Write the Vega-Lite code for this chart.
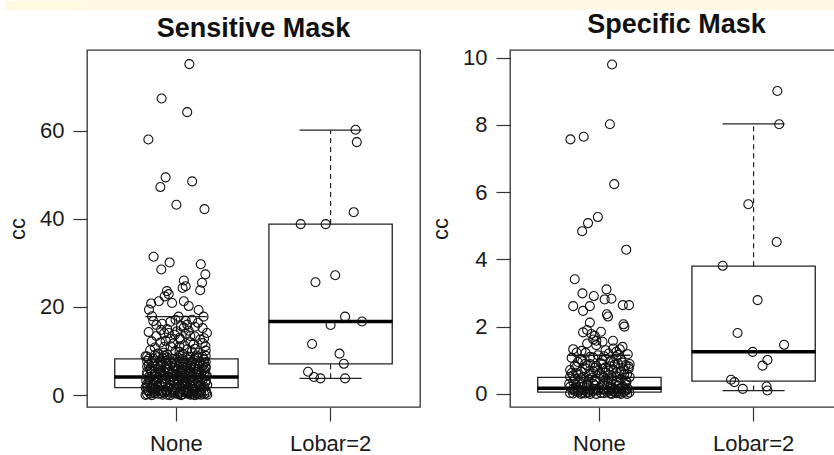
{
"$schema": "https://vega.github.io/schema/vega-lite/v6.json",
"padding": 0,
"background": "white",
"spacing": 0,
"config": {
 "font": "Liberation Sans",
 "view": {"stroke": "#333", "strokeWidth": 1.3},
 "axis": {"grid": false, "domain": false, "tickColor": "#333", "tickWidth": 1.2, "labelFontSize": 22, "labelColor": "#1a1a1a", "titleFontSize": 22, "titleFontWeight": "normal", "titleColor": "#1a1a1a", "labelFont": "Liberation Sans", "titleFont": "Liberation Sans"},
 "axisX": {"tickSize": 14, "labelPadding": 12, "labelAngle": 0},
 "axisY": {"tickSize": 14, "labelPadding": 9, "titlePadding": 10, "labelFlush": false},
 "title": {"fontSize": 27, "fontWeight": "bold", "color": "#111", "offset": 7.5, "anchor": "middle", "font": "Liberation Sans"},
 "point": {"shape": "circle", "filled": false, "size": 81, "strokeWidth": 1.1, "color": "#111", "opacity": 1},
 "tick": {"opacity": 1}
},
"datasets": {
 "s_box": [
  {"g": "None", "lo": 0, "q1": 1.7, "med": 4.1, "q3": 8.2, "hi": 17.8},
  {"g": "Lobar=2", "lo": 3.8, "q1": 7.1, "med": 16.7, "q3": 38.8, "hi": 60.1}
 ],
 "p_box": [
  {"g": "None", "lo": 0, "q1": 0.05, "med": 0.17, "q3": 0.49, "hi": 1.15},
  {"g": "Lobar=2", "lo": 0.1, "q1": 0.38, "med": 1.25, "q3": 3.8, "hi": 8.03}
 ],
 "s_pts": [
  {"g":"None","v":75.1,"j":0.42},{"g":"None","v":67.3,"j":-0.48},{"g":"None","v":64.2,"j":0.35},{"g":"None","v":58.0,"j":-0.91},{"g":"None","v":49.4,"j":-0.35},{"g":"None","v":47.2,"j":-0.52},{"g":"None","v":48.5,"j":0.51},{"g":"None","v":43.2,"j":0.0},{"g":"None","v":42.2,"j":0.91},
  {"g":"None","v":31.4,"j":-0.74},{"g":"None","v":30.1,"j":-0.22},{"g":"None","v":28.5,"j":-0.49},{"g":"None","v":29.7,"j":0.79},{"g":"None","v":27.4,"j":0.94},{"g":"None","v":25.5,"j":0.83},{"g":"None","v":23.8,"j":0.77},{"g":"None","v":26.0,"j":0.24},{"g":"None","v":24.3,"j":0.2},{"g":"None","v":23.6,"j":-0.31},{"g":"None","v":22.4,"j":-0.38},{"g":"None","v":21.3,"j":-0.57},{"g":"None","v":20.9,"j":-0.14},{"g":"None","v":21.3,"j":0.24},{"g":"None","v":20.2,"j":0.4},{"g":"None","v":19.3,"j":0.72},{"g":"None","v":19.4,"j":-0.89},{"g":"None","v":22.9,"j":-0.25},{"g":"None","v":20.8,"j":-0.82},{"g":"None","v":24.7,"j":0.3},
  {"g":"None","v":17.9,"j":-0.79},{"g":"None","v":16.2,"j":-0.46},{"g":"None","v":17.1,"j":-0.03},{"g":"None","v":17.8,"j":0.07},{"g":"None","v":17.1,"j":0.51},{"g":"None","v":17.8,"j":0.88},{"g":"None","v":13.4,"j":-0.65},{"g":"None","v":14.1,"j":-0.25},{"g":"None","v":14.5,"j":0.02},{"g":"None","v":15.3,"j":0.24},{"g":"None","v":13.4,"j":0.45},{"g":"None","v":14.1,"j":0.99},{"g":"None","v":16.8,"j":-0.75},{"g":"None","v":15.5,"j":0.6},{"g":"None","v":14.8,"j":-0.5},{"g":"None","v":16.0,"j":0.35},
  {"g":"None","v":11.1,"j":0.94},{"g":"None","v":11.9,"j":-0.52},{"g":"None","v":11.1,"j":-0.19},{"g":"None","v":12.6,"j":0.13},{"g":"None","v":11.5,"j":0.56},{"g":"None","v":10.4,"j":0.35},{"g":"None","v":12.6,"j":0.77},{"g":"None","v":9.6,"j":-0.41},{"g":"None","v":10.0,"j":-0.03},{"g":"None","v":8.8,"j":-1.0},{"g":"None","v":9.6,"j":0.72},{"g":"None","v":10.8,"j":-0.7},{"g":"None","v":12.0,"j":0.45},{"g":"None","v":9.3,"j":0.2},{"g":"None","v":10.2,"j":-0.85},{"g":"None","v":11.7,"j":-0.1},{"g":"None","v":13.0,"j":0.1},{"g":"None","v":9.9,"j":0.5},{"g":"None","v":12.3,"j":-0.35},
  {"g":"None","v":9.4,"j":-0.6},{"g":"None","v":9.8,"j":0.1},{"g":"None","v":10.5,"j":0.6},{"g":"None","v":10.9,"j":-0.4},{"g":"None","v":11.3,"j":0.25},{"g":"None","v":11.8,"j":0.85},{"g":"None","v":12.2,"j":-0.8},{"g":"None","v":12.8,"j":-0.2},{"g":"None","v":13.3,"j":0.6},{"g":"None","v":13.7,"j":-0.05},{"g":"None","v":14.3,"j":-0.9},{"g":"None","v":14.6,"j":0.4},{"g":"None","v":15.0,"j":-0.3},{"g":"None","v":15.7,"j":0.15},{"g":"None","v":16.4,"j":0.7},{"g":"None","v":16.6,"j":-0.2},{"g":"None","v":15.9,"j":-0.65},{"g":"None","v":12.9,"j":0.9},{"g":"None","v":10.1,"j":0.95},{"g":"None","v":9.2,"j":-0.3},{"g":"None","v":13.9,"j":0.3},{"g":"None","v":11.0,"j":0.1},{"g":"None","v":15.2,"j":0.85},{"g":"None","v":16.9,"j":0.3},{"g":"None","v":14.0,"j":-0.4},
  {"g":"None","v":0.2,"j":-0.95},{"g":"None","v":0.4,"j":-0.7},{"g":"None","v":0.1,"j":-0.45},{"g":"None","v":0.5,"j":-0.2},{"g":"None","v":0.2,"j":0.05},{"g":"None","v":0.6,"j":0.3},{"g":"None","v":0.3,"j":0.55},{"g":"None","v":0.1,"j":0.8},{"g":"None","v":0.5,"j":0.97},{"g":"None","v":0.3,"j":-0.85},{"g":"None","v":0.2,"j":0.2},{"g":"None","v":0.4,"j":0.65},
  {"g":"None","v":0.9,"j":-0.9},{"g":"None","v":1.2,"j":-0.6},{"g":"None","v":0.8,"j":-0.3},{"g":"None","v":1.3,"j":-0.05},{"g":"None","v":1.0,"j":0.25},{"g":"None","v":1.4,"j":0.5},{"g":"None","v":0.9,"j":0.75},{"g":"None","v":1.1,"j":0.95},{"g":"None","v":1.2,"j":-0.15},{"g":"None","v":0.8,"j":0.4},
  {"g":"None","v":1.7,"j":-0.8},{"g":"None","v":2.1,"j":-0.5},{"g":"None","v":1.8,"j":-0.25},{"g":"None","v":2.0,"j":0.1},{"g":"None","v":1.6,"j":0.35},{"g":"None","v":2.2,"j":0.6},{"g":"None","v":1.9,"j":0.9},{"g":"None","v":1.7,"j":-1.0},{"g":"None","v":2.1,"j":0.2},
  {"g":"None","v":2.5,"j":-0.95},{"g":"None","v":2.9,"j":-0.65},{"g":"None","v":2.6,"j":-0.35},{"g":"None","v":3.0,"j":-0.1},{"g":"None","v":2.4,"j":0.15},{"g":"None","v":2.8,"j":0.45},{"g":"None","v":2.7,"j":0.7},{"g":"None","v":3.0,"j":0.95},{"g":"None","v":2.5,"j":0.3},
  {"g":"None","v":3.3,"j":-0.75},{"g":"None","v":3.7,"j":-0.45},{"g":"None","v":3.4,"j":-0.2},{"g":"None","v":3.6,"j":0.05},{"g":"None","v":3.2,"j":0.3},{"g":"None","v":3.8,"j":0.55},{"g":"None","v":3.5,"j":0.85},{"g":"None","v":3.3,"j":-0.98},
  {"g":"None","v":4.1,"j":-0.9},{"g":"None","v":4.5,"j":-0.55},{"g":"None","v":4.2,"j":-0.3},{"g":"None","v":4.6,"j":0.0},{"g":"None","v":4.0,"j":0.25},{"g":"None","v":4.4,"j":0.5},{"g":"None","v":4.3,"j":0.75},{"g":"None","v":4.5,"j":0.98},{"g":"None","v":4.1,"j":-0.1},
  {"g":"None","v":4.9,"j":-0.7},{"g":"None","v":5.3,"j":-0.4},{"g":"None","v":5.0,"j":-0.15},{"g":"None","v":5.4,"j":0.15},{"g":"None","v":4.8,"j":0.4},{"g":"None","v":5.2,"j":0.65},{"g":"None","v":5.1,"j":0.9},{"g":"None","v":5.3,"j":-0.95},
  {"g":"None","v":5.7,"j":-0.85},{"g":"None","v":6.1,"j":-0.6},{"g":"None","v":5.8,"j":-0.3},{"g":"None","v":6.2,"j":-0.05},{"g":"None","v":5.6,"j":0.2},{"g":"None","v":6.0,"j":0.45},{"g":"None","v":5.9,"j":0.7},{"g":"None","v":6.1,"j":0.95},
  {"g":"None","v":6.5,"j":-0.95},{"g":"None","v":6.9,"j":-0.5},{"g":"None","v":6.6,"j":-0.2},{"g":"None","v":7.0,"j":0.1},{"g":"None","v":6.4,"j":0.35},{"g":"None","v":6.8,"j":0.6},{"g":"None","v":6.7,"j":0.85},{"g":"None","v":6.5,"j":-0.7},
  {"g":"None","v":7.3,"j":-0.8},{"g":"None","v":7.7,"j":-0.35},{"g":"None","v":7.4,"j":-0.05},{"g":"None","v":7.8,"j":0.25},{"g":"None","v":7.2,"j":0.5},{"g":"None","v":7.6,"j":0.75},{"g":"None","v":7.5,"j":0.95},
  {"g":"None","v":8.2,"j":-0.9},{"g":"None","v":8.6,"j":-0.6},{"g":"None","v":8.1,"j":-0.25},{"g":"None","v":8.5,"j":0.05},{"g":"None","v":8.8,"j":0.35},{"g":"None","v":8.3,"j":0.6},{"g":"None","v":8.7,"j":0.85},{"g":"None","v":8.4,"j":-0.45},
  {"g":"None","v":0.3,"j":-0.6},{"g":"None","v":0.7,"j":0.1},{"g":"None","v":1.5,"j":-0.7},{"g":"None","v":2.3,"j":0.8},{"g":"None","v":3.1,"j":0.2},{"g":"None","v":3.9,"j":-0.6},{"g":"None","v":4.7,"j":0.65},{"g":"None","v":5.5,"j":-0.5},{"g":"None","v":6.3,"j":0.55},{"g":"None","v":7.1,"j":-0.3},{"g":"None","v":0.1,"j":0.45},{"g":"None","v":0.6,"j":-0.4},{"g":"None","v":1.0,"j":-0.5},{"g":"None","v":0.2,"j":0.9},{"g":"None","v":1.4,"j":0.15},{"g":"None","v":2.6,"j":-0.75},{"g":"None","v":0.4,"j":0.1},{"g":"None","v":0.0,"j":-0.2},{"g":"None","v":0.0,"j":0.6},{"g":"None","v":0.3,"j":-0.1},
  {"g":"None","v":0.0,"j":-0.8},{"g":"None","v":0.1,"j":-0.3},{"g":"None","v":0.0,"j":0.15},{"g":"None","v":0.2,"j":0.5},{"g":"None","v":0.1,"j":1.0},{"g":"None","v":0.05,"j":-1.0},{"g":"None","v":0.15,"j":0.7},{"g":"None","v":0.35,"j":0.35},{"g":"None","v":0.45,"j":-0.5},{"g":"None","v":0.55,"j":0.8},
  {"g":"None","v":0.7,"j":-0.75},{"g":"None","v":0.6,"j":-0.05},{"g":"None","v":0.75,"j":0.55},{"g":"None","v":1.05,"j":-0.95},{"g":"None","v":1.1,"j":-0.35},{"g":"None","v":1.15,"j":0.35},{"g":"None","v":1.25,"j":0.8},{"g":"None","v":1.35,"j":-0.8},{"g":"None","v":1.5,"j":0.0},{"g":"None","v":1.55,"j":0.65},
  {"g":"None","v":1.85,"j":-0.6},{"g":"None","v":1.9,"j":0.3},{"g":"None","v":2.0,"j":-0.95},{"g":"None","v":2.05,"j":0.75},{"g":"None","v":2.2,"j":-0.2},{"g":"None","v":2.3,"j":0.45},{"g":"None","v":2.4,"j":-0.55},{"g":"None","v":2.35,"j":1.0},{"g":"None","v":2.6,"j":0.0},{"g":"None","v":2.7,"j":-0.85},
  {"g":"None","v":2.85,"j":0.25},{"g":"None","v":2.95,"j":0.7},{"g":"None","v":3.05,"j":-0.4},{"g":"None","v":3.15,"j":0.55},{"g":"None","v":3.25,"j":-0.1},{"g":"None","v":3.35,"j":0.95},{"g":"None","v":3.45,"j":-0.65},{"g":"None","v":3.55,"j":0.4},{"g":"None","v":3.65,"j":-0.9},{"g":"None","v":3.75,"j":0.15},
  {"g":"None","v":3.85,"j":0.8},{"g":"None","v":3.95,"j":-0.25},{"g":"None","v":4.05,"j":0.5},{"g":"None","v":4.15,"j":-0.7},{"g":"None","v":4.25,"j":0.05},{"g":"None","v":4.35,"j":0.95},{"g":"None","v":4.45,"j":-0.4},{"g":"None","v":4.55,"j":0.3},{"g":"None","v":4.65,"j":-0.95},{"g":"None","v":4.75,"j":0.0},
  {"g":"None","v":4.85,"j":0.8},{"g":"None","v":4.95,"j":-0.5},{"g":"None","v":5.05,"j":0.45},{"g":"None","v":5.15,"j":-0.25},{"g":"None","v":5.25,"j":0.1},{"g":"None","v":5.35,"j":0.7},{"g":"None","v":5.45,"j":-0.8},{"g":"None","v":5.55,"j":0.3},{"g":"None","v":5.65,"j":-0.1},{"g":"None","v":5.75,"j":0.9},
  {"g":"None","v":5.85,"j":-0.55},{"g":"None","v":5.95,"j":0.05},{"g":"None","v":6.05,"j":-0.85},{"g":"None","v":6.15,"j":0.6},{"g":"None","v":6.25,"j":-0.35},{"g":"None","v":6.35,"j":0.2},{"g":"None","v":6.45,"j":0.95},{"g":"None","v":6.55,"j":-0.5},{"g":"None","v":6.65,"j":0.45},{"g":"None","v":6.75,"j":-0.05},
  {"g":"None","v":6.85,"j":-0.9},{"g":"None","v":6.95,"j":0.75},{"g":"None","v":7.05,"j":-0.6},{"g":"None","v":7.15,"j":0.3},{"g":"None","v":7.25,"j":-0.15},{"g":"None","v":7.35,"j":0.9},{"g":"None","v":7.45,"j":-0.5},{"g":"None","v":7.55,"j":0.1},{"g":"None","v":7.65,"j":0.5},{"g":"None","v":7.75,"j":-0.95},
  {"g":"None","v":7.85,"j":-0.7},{"g":"None","v":7.95,"j":0.4},{"g":"None","v":8.05,"j":0.9},{"g":"None","v":8.15,"j":-0.1},{"g":"None","v":8.25,"j":0.2},{"g":"None","v":8.35,"j":-0.75},{"g":"None","v":8.45,"j":0.7},{"g":"None","v":8.55,"j":-0.3},{"g":"None","v":8.65,"j":0.45},{"g":"None","v":8.75,"j":-0.95},
  {"g":"None","v":8.9,"j":-0.4},{"g":"None","v":8.95,"j":0.1},{"g":"None","v":9.0,"j":0.65},{"g":"None","v":8.9,"j":0.95},{"g":"None","v":9.1,"j":-0.7},{"g":"None","v":0.5,"j":0.4},{"g":"None","v":1.3,"j":0.6},{"g":"None","v":2.8,"j":-0.2},{"g":"None","v":3.0,"j":0.35},{"g":"None","v":4.9,"j":0.2},
  {"g":"Lobar=2","v":60.2,"j":0.81},{"g":"Lobar=2","v":57.4,"j":0.85},{"g":"Lobar=2","v":41.5,"j":0.75},{"g":"Lobar=2","v":38.8,"j":-0.97},{"g":"Lobar=2","v":38.8,"j":-0.16},{"g":"Lobar=2","v":25.6,"j":-0.49},{"g":"Lobar=2","v":27.2,"j":0.15},{"g":"Lobar=2","v":17.8,"j":0.47},{"g":"Lobar=2","v":15.9,"j":0.0},{"g":"Lobar=2","v":16.7,"j":1.02},{"g":"Lobar=2","v":11.6,"j":-0.6},{"g":"Lobar=2","v":9.4,"j":0.29},{"g":"Lobar=2","v":7.1,"j":0.43},{"g":"Lobar=2","v":5.3,"j":-0.73},{"g":"Lobar=2","v":4.1,"j":-0.54},{"g":"Lobar=2","v":3.8,"j":-0.33},{"g":"Lobar=2","v":3.8,"j":0.47}
 ],
 "p_pts": [
  {"g":"None","v":9.80,"j":0.41},{"g":"None","v":8.02,"j":0.34},{"g":"None","v":7.57,"j":-0.94},{"g":"None","v":7.65,"j":-0.51},{"g":"None","v":6.24,"j":0.48},{"g":"None","v":5.26,"j":-0.05},{"g":"None","v":5.08,"j":-0.37},{"g":"None","v":4.84,"j":-0.56},{"g":"None","v":4.29,"j":0.87},
  {"g":"None","v":3.41,"j":-0.8},{"g":"None","v":2.99,"j":-0.55},{"g":"None","v":2.91,"j":-0.18},{"g":"None","v":3.11,"j":0.23},{"g":"None","v":2.81,"j":0.17},{"g":"None","v":2.83,"j":0.39},{"g":"None","v":2.61,"j":-0.85},{"g":"None","v":2.47,"j":-0.53},{"g":"None","v":2.61,"j":-0.31},{"g":"None","v":2.64,"j":0.76},{"g":"None","v":2.64,"j":0.96},{"g":"None","v":2.37,"j":0.24},{"g":"None","v":2.30,"j":0.28},{"g":"None","v":2.07,"j":0.78},{"g":"None","v":2.00,"j":0.81},{"g":"None","v":2.12,"j":-0.31},{"g":"None","v":1.83,"j":-0.53},{"g":"None","v":1.78,"j":-0.26},{"g":"None","v":1.73,"j":-0.15},{"g":"None","v":1.58,"j":-0.1},{"g":"None","v":1.9,"j":-0.4},{"g":"None","v":1.85,"j":0.05},
  {"g":"None","v":1.33,"j":-0.85},{"g":"None","v":1.23,"j":-0.74},{"g":"None","v":1.28,"j":-0.58},{"g":"None","v":1.58,"j":0.44},{"g":"None","v":1.33,"j":0.66},{"g":"None","v":1.18,"j":0.92},{"g":"None","v":0.89,"j":-0.47},{"g":"None","v":0.89,"j":0.98},{"g":"None","v":1.1,"j":-0.3},{"g":"None","v":1.0,"j":0.1},{"g":"None","v":1.45,"j":-0.1},{"g":"None","v":1.55,"j":0.1},{"g":"None","v":1.2,"j":0.3},{"g":"None","v":1.05,"j":0.55},{"g":"None","v":0.95,"j":-0.7},{"g":"None","v":1.4,"j":0.75},{"g":"None","v":1.15,"j":-0.05},{"g":"None","v":0.98,"j":0.35},{"g":"None","v":1.3,"j":0.2},{"g":"None","v":1.5,"j":-0.4},{"g":"None","v":1.62,"j":-0.2},{"g":"None","v":1.07,"j":-0.9},{"g":"None","v":1.25,"j":0.55},{"g":"None","v":0.93,"j":0.75},
  {"g":"None","v":0.02,"j":-0.95},{"g":"None","v":0.05,"j":-0.7},{"g":"None","v":0.01,"j":-0.45},{"g":"None","v":0.08,"j":-0.2},{"g":"None","v":0.03,"j":0.05},{"g":"None","v":0.1,"j":0.3},{"g":"None","v":0.02,"j":0.55},{"g":"None","v":0.06,"j":0.8},{"g":"None","v":0.04,"j":0.97},
  {"g":"None","v":0.15,"j":-0.85},{"g":"None","v":0.2,"j":-0.55},{"g":"None","v":0.12,"j":-0.3},{"g":"None","v":0.18,"j":0.0},{"g":"None","v":0.25,"j":0.25},{"g":"None","v":0.14,"j":0.5},{"g":"None","v":0.22,"j":0.75},{"g":"None","v":0.16,"j":0.92},
  {"g":"None","v":0.3,"j":-0.98},{"g":"None","v":0.35,"j":-0.65},{"g":"None","v":0.28,"j":-0.4},{"g":"None","v":0.38,"j":-0.1},{"g":"None","v":0.32,"j":0.15},{"g":"None","v":0.4,"j":0.4},{"g":"None","v":0.33,"j":0.65},{"g":"None","v":0.37,"j":0.88},
  {"g":"None","v":0.45,"j":-0.8},{"g":"None","v":0.5,"j":-0.5},{"g":"None","v":0.48,"j":-0.25},{"g":"None","v":0.55,"j":0.05},{"g":"None","v":0.46,"j":0.3},{"g":"None","v":0.52,"j":0.55},{"g":"None","v":0.58,"j":0.8},{"g":"None","v":0.5,"j":0.98},
  {"g":"None","v":0.62,"j":-0.9},{"g":"None","v":0.66,"j":-0.6},{"g":"None","v":0.6,"j":-0.3},{"g":"None","v":0.7,"j":-0.05},{"g":"None","v":0.64,"j":0.2},{"g":"None","v":0.72,"j":0.45},{"g":"None","v":0.68,"j":0.7},{"g":"None","v":0.75,"j":0.95},
  {"g":"None","v":0.8,"j":-0.75},{"g":"None","v":0.85,"j":-0.4},{"g":"None","v":0.78,"j":-0.15},{"g":"None","v":0.88,"j":0.1},{"g":"None","v":0.82,"j":0.35},{"g":"None","v":0.9,"j":0.6},{"g":"None","v":0.86,"j":0.85},
  {"g":"None","v":0.0,"j":-0.6},{"g":"None","v":0.0,"j":-0.1},{"g":"None","v":0.0,"j":0.4},{"g":"None","v":0.0,"j":0.7},{"g":"None","v":0.1,"j":-0.05},{"g":"None","v":0.07,"j":0.45},{"g":"None","v":0.09,"j":-0.8},{"g":"None","v":0.13,"j":0.15},{"g":"None","v":0.26,"j":-0.75},{"g":"None","v":0.24,"j":0.6},{"g":"None","v":0.42,"j":-0.35},{"g":"None","v":0.4,"j":0.85},{"g":"None","v":0.3,"j":-0.2},{"g":"None","v":0.2,"j":0.35},{"g":"None","v":0.05,"j":0.25},{"g":"None","v":0.11,"j":-0.5},{"g":"None","v":0.19,"j":0.8},{"g":"None","v":0.57,"j":-0.7},{"g":"None","v":0.04,"j":-0.35},{"g":"None","v":0.15,"j":0.65},
  {"g":"None","v":0.01,"j":-0.85},{"g":"None","v":0.03,"j":-0.55},{"g":"None","v":0.0,"j":-0.3},{"g":"None","v":0.02,"j":0.15},{"g":"None","v":0.01,"j":0.35},{"g":"None","v":0.03,"j":0.65},{"g":"None","v":0.0,"j":0.9},{"g":"None","v":0.06,"j":-0.4},{"g":"None","v":0.08,"j":0.6},{"g":"None","v":0.12,"j":-0.65},
  {"g":"None","v":0.14,"j":-0.15},{"g":"None","v":0.17,"j":0.4},{"g":"None","v":0.21,"j":-0.95},{"g":"None","v":0.23,"j":-0.35},{"g":"None","v":0.27,"j":0.1},{"g":"None","v":0.29,"j":0.85},{"g":"None","v":0.31,"j":-0.55},{"g":"None","v":0.34,"j":0.3},{"g":"None","v":0.36,"j":-0.85},{"g":"None","v":0.39,"j":0.55},
  {"g":"None","v":0.41,"j":-0.15},{"g":"None","v":0.44,"j":0.7},{"g":"None","v":0.47,"j":-0.6},{"g":"None","v":0.49,"j":0.15},{"g":"None","v":0.51,"j":-0.95},{"g":"None","v":0.53,"j":0.4},{"g":"None","v":0.56,"j":-0.35},{"g":"None","v":0.59,"j":0.9},{"g":"None","v":0.61,"j":0.0},{"g":"None","v":0.63,"j":-0.75},
  {"g":"None","v":0.65,"j":0.55},{"g":"None","v":0.67,"j":-0.2},{"g":"None","v":0.69,"j":0.3},{"g":"None","v":0.71,"j":-0.95},{"g":"None","v":0.73,"j":0.8},{"g":"None","v":0.76,"j":-0.45},{"g":"None","v":0.79,"j":0.2},{"g":"None","v":0.81,"j":0.95},{"g":"None","v":0.84,"j":-0.8},{"g":"None","v":0.87,"j":0.5},
  {"g":"None","v":0.89,"j":-0.3},{"g":"None","v":0.91,"j":0.05},{"g":"None","v":0.94,"j":0.45},{"g":"None","v":0.97,"j":-0.55},{"g":"None","v":1.02,"j":0.7},{"g":"None","v":1.08,"j":-0.2},{"g":"None","v":1.12,"j":0.15},{"g":"None","v":1.16,"j":0.6},{"g":"None","v":1.22,"j":-0.45},{"g":"None","v":1.35,"j":0.45},
  {"g":"None","v":1.02,"j":-0.6},{"g":"None","v":0.05,"j":0.5},{"g":"None","v":0.1,"j":0.85},{"g":"None","v":0.18,"j":-0.75},{"g":"None","v":0.25,"j":-0.15},{"g":"None","v":0.43,"j":0.2},{"g":"None","v":0.55,"j":-0.85},{"g":"None","v":0.62,"j":0.65},{"g":"None","v":0.74,"j":0.1},{"g":"None","v":0.83,"j":-0.1},
  {"g":"Lobar=2","v":9.01,"j":0.77},{"g":"Lobar=2","v":8.02,"j":0.83},{"g":"Lobar=2","v":5.64,"j":-0.17},{"g":"Lobar=2","v":4.52,"j":0.75},{"g":"Lobar=2","v":3.81,"j":-1.0},{"g":"Lobar=2","v":2.79,"j":0.13},{"g":"Lobar=2","v":1.81,"j":-0.52},{"g":"Lobar=2","v":1.46,"j":0.99},{"g":"Lobar=2","v":1.25,"j":-0.03},{"g":"Lobar=2","v":1.01,"j":0.45},{"g":"Lobar=2","v":0.84,"j":0.29},{"g":"Lobar=2","v":0.42,"j":-0.73},{"g":"Lobar=2","v":0.35,"j":-0.62},{"g":"Lobar=2","v":0.15,"j":-0.35},{"g":"Lobar=2","v":0.22,"j":0.42},{"g":"Lobar=2","v":0.10,"j":0.45}
 ]
},
"vconcat": [
 {
  "width": 760, "height": 10,
  "view": {"fill": "#FFF8E1", "stroke": null},
  "data": {"values": []},
  "mark": "point",
  "encoding": {
   "y": {"field": "s", "type": "quantitative", "title": null,
         "scale": {"domain": [0, 1], "nice": false, "zero": false},
         "axis": {"values": [0.5], "labels": false, "domain": false, "tickSize": 82, "tickWidth": 10, "tickColor": "#FFF8E1", "tickCap": "butt", "title": null}}
  }
 },
 {
  "hconcat": [
   {
    "width": 333, "height": 357,
    "title": {"text": "Sensitive Mask"},
    "resolve": {"scale": {"xOffset": "independent"}},
    "encoding": {"x": {"field": "g", "type": "nominal", "title": null, "scale": {"domain": ["None", "Lobar=2"], "paddingInner": 0.2, "paddingOuter": 0.18}}},
    "layer": [
     {"data": {"name": "s_box"}, "mark": {"type": "rule", "strokeDash": [5, 4], "color": "#222", "strokeWidth": 1.2},
      "encoding": {"y": {"field": "q3", "type": "quantitative", "title": "cc", "scale": {"domain": [-2.7, 78.3], "nice": false, "zero": false}, "axis": {"values": [0, 20, 40, 60]}}, "y2": {"field": "hi"}}},
     {"data": {"name": "s_box"}, "mark": {"type": "rule", "strokeDash": [5, 4], "color": "#222", "strokeWidth": 1.2},
      "encoding": {"y": {"field": "lo", "type": "quantitative", "title": "cc", "scale": {"domain": [-2.7, 78.3], "nice": false, "zero": false}, "axis": {"values": [0, 20, 40, 60]}}, "y2": {"field": "q1"}}},
     {"data": {"name": "s_box"}, "mark": {"type": "tick", "color": "#222", "thickness": 1.3, "size": 62},
      "encoding": {"y": {"field": "hi", "type": "quantitative", "title": "cc", "scale": {"domain": [-2.7, 78.3], "nice": false, "zero": false}, "axis": {"values": [0, 20, 40, 60]}}}},
     {"data": {"name": "s_box"}, "mark": {"type": "tick", "color": "#222", "thickness": 1.3, "size": 62},
      "encoding": {"y": {"field": "lo", "type": "quantitative", "title": "cc", "scale": {"domain": [-2.7, 78.3], "nice": false, "zero": false}, "axis": {"values": [0, 20, 40, 60]}}}},
     {"data": {"name": "s_box"}, "mark": {"type": "bar", "width": {"band": 1}, "fill": null, "fillOpacity": 0, "stroke": "#222", "strokeWidth": 1.3},
      "encoding": {"y": {"field": "q1", "type": "quantitative", "title": "cc", "scale": {"domain": [-2.7, 78.3], "nice": false, "zero": false}, "axis": {"values": [0, 20, 40, 60]}}, "y2": {"field": "q3"}}},
     {"data": {"name": "s_box"}, "mark": {"type": "tick", "color": "#000", "thickness": 3.5, "size": 124},
      "encoding": {"y": {"field": "med", "type": "quantitative", "title": "cc", "scale": {"domain": [-2.7, 78.3], "nice": false, "zero": false}, "axis": {"values": [0, 20, 40, 60]}}}},
     {"data": {"name": "s_pts"}, "mark": {"type": "point"},
      "encoding": {"y": {"field": "v", "type": "quantitative", "title": "cc", "scale": {"domain": [-2.7, 78.3], "nice": false, "zero": false}, "axis": {"values": [0, 20, 40, 60]}},
                   "xOffset": {"field": "j", "type": "quantitative", "scale": {"domain": [-2, 2]}}}}
    ]
   },
   {
    "width": 333, "height": 357,
    "title": {"text": "Specific Mask"},
    "resolve": {"scale": {"xOffset": "independent"}},
    "encoding": {"x": {"field": "g", "type": "nominal", "title": null, "scale": {"domain": ["None", "Lobar=2"], "paddingInner": 0.2, "paddingOuter": 0.18}}},
    "layer": [
     {"data": {"name": "p_box"}, "mark": {"type": "rule", "strokeDash": [5, 4], "color": "#222", "strokeWidth": 1.2},
      "encoding": {"y": {"field": "q3", "type": "quantitative", "title": "cc", "scale": {"domain": [-0.39, 10.23], "nice": false, "zero": false}, "axis": {"values": [0, 2, 4, 6, 8, 10]}}, "y2": {"field": "hi"}}},
     {"data": {"name": "p_box"}, "mark": {"type": "rule", "strokeDash": [5, 4], "color": "#222", "strokeWidth": 1.2},
      "encoding": {"y": {"field": "lo", "type": "quantitative", "title": "cc", "scale": {"domain": [-0.39, 10.23], "nice": false, "zero": false}, "axis": {"values": [0, 2, 4, 6, 8, 10]}}, "y2": {"field": "q1"}}},
     {"data": {"name": "p_box"}, "mark": {"type": "tick", "color": "#222", "thickness": 1.3, "size": 62},
      "encoding": {"y": {"field": "hi", "type": "quantitative", "title": "cc", "scale": {"domain": [-0.39, 10.23], "nice": false, "zero": false}, "axis": {"values": [0, 2, 4, 6, 8, 10]}}}},
     {"data": {"name": "p_box"}, "mark": {"type": "tick", "color": "#222", "thickness": 1.3, "size": 62},
      "encoding": {"y": {"field": "lo", "type": "quantitative", "title": "cc", "scale": {"domain": [-0.39, 10.23], "nice": false, "zero": false}, "axis": {"values": [0, 2, 4, 6, 8, 10]}}}},
     {"data": {"name": "p_box"}, "mark": {"type": "bar", "width": {"band": 1}, "fill": null, "fillOpacity": 0, "stroke": "#222", "strokeWidth": 1.3},
      "encoding": {"y": {"field": "q1", "type": "quantitative", "title": "cc", "scale": {"domain": [-0.39, 10.23], "nice": false, "zero": false}, "axis": {"values": [0, 2, 4, 6, 8, 10]}}, "y2": {"field": "q3"}}},
     {"data": {"name": "p_box"}, "mark": {"type": "tick", "color": "#000", "thickness": 3.5, "size": 124},
      "encoding": {"y": {"field": "med", "type": "quantitative", "title": "cc", "scale": {"domain": [-0.39, 10.23], "nice": false, "zero": false}, "axis": {"values": [0, 2, 4, 6, 8, 10]}}}},
     {"data": {"name": "p_pts"}, "mark": {"type": "point"},
      "encoding": {"y": {"field": "v", "type": "quantitative", "title": "cc", "scale": {"domain": [-0.39, 10.23], "nice": false, "zero": false}, "axis": {"values": [0, 2, 4, 6, 8, 10]}},
                   "xOffset": {"field": "j", "type": "quantitative", "scale": {"domain": [-2, 2]}}}}
    ]
   }
  ],
  "spacing": 7
 }
]
}
